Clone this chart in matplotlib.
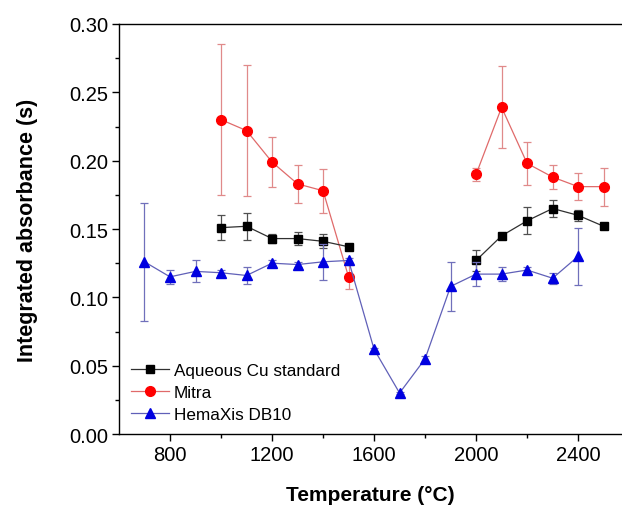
import matplotlib
matplotlib.use("Agg")
import matplotlib.pyplot as plt
import numpy as np

plt.rcParams['font.family'] = ['Liberation Sans', 'DejaVu Sans']

# temperatures (°C)
temp_cu = [1000, 1100, 1200, 1300, 1400, 1500, 1600, 1700, 1800, 1900,
           2000, 2100, 2200, 2300, 2400, 2500]
temp_hema = [700, 800, 900, 1000, 1100, 1200, 1300, 1400, 1500, 1600, 1700,
             1800, 1900, 2000, 2100, 2200, 2300, 2400]

# Aqueous Cu standard (gap 1600-1900)
cu_val = [0.151, 0.152, 0.143, 0.143, 0.141, 0.137, np.nan, np.nan, np.nan, np.nan,
          0.127, 0.145, 0.156, 0.165, 0.160, 0.152]
cu_err = [0.009, 0.010, 0.003, 0.005, 0.005, np.nan, np.nan, np.nan, np.nan, np.nan,
          0.008, np.nan, 0.010, 0.006, 0.004, np.nan]

# Mitra
mitra_val = [0.230, 0.222, 0.199, 0.183, 0.178, 0.115, np.nan, np.nan, np.nan, np.nan,
             0.190, 0.239, 0.198, 0.188, 0.181, 0.181]
mitra_err = [0.055, 0.048, 0.018, 0.014, 0.016, 0.009, np.nan, np.nan, np.nan, np.nan,
             0.005, 0.030, 0.016, 0.009, 0.010, 0.014]

# HemaXis DB10
hema_val = [0.126, 0.115, 0.119, 0.118, 0.116, 0.125, 0.124, 0.126, 0.127, 0.062, 0.030,
            0.055, 0.108, 0.117, 0.117, 0.120, 0.114, 0.130]
hema_err = [0.043, 0.005, 0.008, 0.002, 0.006, 0.002, 0.002, 0.013, 0.002, 0.001, 0.001,
            0.002, 0.018, 0.009, 0.005, 0.002, 0.004, 0.021]

fig = plt.figure(figsize=(6.22, 5.10), dpi=100)
ax = fig.add_axes([0.1913, 0.147, 0.8087, 0.804])

c1 = ax.errorbar(temp_cu, cu_val, yerr=cu_err, fmt='-s', color='#303030', ms=6.3,
                 lw=0.9, ecolor='#505050', elinewidth=0.9, capsize=3, capthick=0.9,
                 mfc='black', mec='black', zorder=4)
c2 = ax.errorbar(temp_cu, mitra_val, yerr=mitra_err, fmt='-o', color='#e06a6a', ms=7,
                 lw=0.9, ecolor='#e08a8a', elinewidth=0.9, capsize=3, capthick=0.9,
                 mfc='#ff0000', mec='#ff0000', zorder=3)
c3 = ax.errorbar(temp_hema, hema_val, yerr=hema_err, fmt='-^', color='#6060b8', ms=7.5,
                 lw=0.9, ecolor='#7070bb', elinewidth=0.9, capsize=3, capthick=0.9,
                 mfc='#0000e0', mec='#0000e0', zorder=5)

ax.set_xlim(600, 2572)
ax.set_ylim(0, 0.30)
ax.set_xticks([800, 1200, 1600, 2000, 2400])
ax.set_xticks(np.arange(1000, 2600, 400), minor=True)
ax.set_yticks(np.arange(0, 0.31, 0.05))
ax.set_yticks(np.arange(0.025, 0.30, 0.05), minor=True)
ax.yaxis.set_major_formatter(matplotlib.ticker.FormatStrFormatter('%.2f'))
ax.tick_params(axis='both', which='major', direction='out', length=5, width=1,
               labelsize=14.5, pad=3)
ax.tick_params(axis='both', which='minor', direction='out', length=3, width=1)
ax.tick_params(top=False, right=False)
ax.spines['right'].set_visible(False)
for s in ax.spines.values():
    s.set_linewidth(1)

ax.set_xlabel('Temperature (°C)', fontsize=15, fontweight='bold', labelpad=15)
ax.set_ylabel('Integrated absorbance (s)', fontsize=15.5, fontweight='bold', labelpad=22)

ax.legend([c1[0], c2[0], c3[0]], ['Aqueous Cu standard', 'Mitra', 'HemaXis DB10'],
          loc='lower left', frameon=False, fontsize=12.3, handlelength=2.2,
          handletextpad=0.3, labelspacing=0.42, borderaxespad=0.3)

fig.savefig('out.png', dpi=100)
